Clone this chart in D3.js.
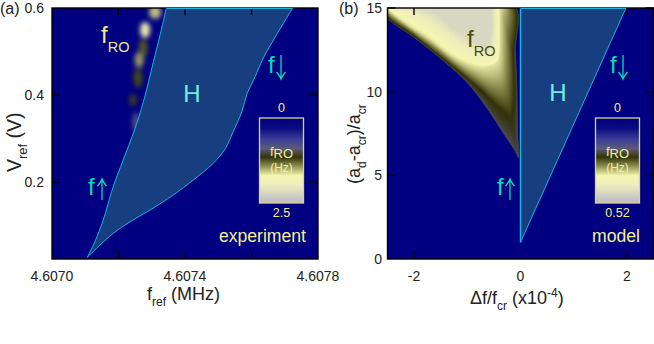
<!DOCTYPE html>
<html><head><meta charset="utf-8">
<script src="https://cdn.jsdelivr.net/npm/d3@7/dist/d3.min.js"></script>
<style>html,body{margin:0;padding:0;background:#fff}svg{display:block}text{font-family:"Liberation Sans",Arial,sans-serif}</style>
</head><body><script>
// Panel (a): hysteresis boundary
const aLeftX=[4.607106,4.607129,4.607154,4.607184,4.607214,4.607247,4.607275,4.607305,4.607325,4.607344];
const aLeftY=[0.0269,0.0627,0.1126,0.1892,0.2506,0.3172,0.3846,0.4765,0.5379,0.6];
const aRightX=[4.607724,4.607696,4.607666,4.607635,4.607611,4.607587,4.607571,4.607543,4.607522,4.607485,4.607425,4.607365,4.607295,4.607235,4.607184,4.607139,4.607106];
const aRightY=[0.6,0.5648,0.5264,0.4844,0.4421,0.4039,0.3616,0.3126,0.2775,0.2430,0.2046,0.1701,0.1356,0.1087,0.0821,0.0513,0.0269];
// Panel (a): measured fRO blobs
const blobX=[4.607253,4.607274,4.607259,4.607244,4.607262,4.607280,4.607310];
const blobY=[0.3379,0.508,0.4391,0.3885,0.4805,0.5494,0.5908];
const blobRx=[4,4.5,4.5,4,4.5,5,6];
const blobRy=[10,9,10,6,8,8,7];
const blobLevel=[0.3,0.5,0.48,0.44,0.58,0.67,0.62];
// Panel (b): model hysteresis triangle
const bHX=[0,0,1.98];
const bHY=[15,1,15];
// Panel (b): fRO contours, outer edge to core
const contourLevels=[0.4,0.47,0.66,0.88];
const contourX=[
 [-2.554,-1.934,-1.427,-0.995,-0.582,-0.338,-0.113,-0.038,-0.056,-0.066,-0.094,-0.131,-2.554],
 [-2.554,-1.934,-1.460,-0.975,-0.690,-0.430,-0.250,-0.190,-0.150,-0.131,-0.150,-0.169,-2.554],
 [-2.498,-2.178,-1.746,-1.296,-0.920,-0.676,-0.451,-0.394,-0.394,-0.394,-0.394,-0.394,-2.535],
 [-2.27,-1.80,-1.52,-1.30,-0.98,-0.75,-0.63,-0.58,-0.55,-0.55,-0.55,-0.55,-2.31]];
const contourY=[
 [14.61,13.09,11.79,10.52,8.79,7.59,6.51,6.04,7.71,10.10,12.49,15.24,15.24],
 [14.70,13.23,12.02,10.78,10.00,9.20,8.75,8.60,9.02,10.10,12.19,15.24,15.24],
 [15.00,14.16,13.27,12.19,11.59,11.47,11.71,12.61,13.69,14.58,15.00,15.24,15.30],
 [15.2,15.0,14.55,13.97,13.25,12.8,12.75,13.25,13.9,14.5,15.0,15.24,15.3]];
// Colour map
const rampStops=[0,0.12,0.25,0.36,0.46,0.56,0.68,0.78,0.82,0.88,0.95,1];
const rampColors=["#000080","#0a0a80","#3c3c98","#5c5c78","#33330a","#88884c","#f6f6b2","#eeeebc","#e6e6be","#d8d8c2","#c4c4c4","#c0c0cc"];
// Tick labels
const aXTicks=[4.6070,4.6074,4.6078], aXMinor=[4.6072,4.6074,4.6076], aYTicks=[0.2,0.4,0.6];
const bXTicks=[-2,0,2], bYTicks=[0,5,10,15];

const NAVY="#000080",HFILL="#173f80",EDGE="#16b4e4",CY="#72ece4",TEAL="#0cdcb0",YEL="#f4f090";
const svg=d3.select("body").append("svg").attr("width",654).attr("height",344);
const defs=svg.append("defs");
const ramp=d3.scaleLinear().domain(rampStops).range(rampColors).interpolate(d3.interpolateRgb);
const blur=defs.append("filter").attr("id","soft").attr("x","-80%").attr("y","-80%").attr("width","260%").attr("height","260%");
blur.append("feGaussianBlur").attr("stdDeviation",2.4);
const gr=defs.append("linearGradient").attr("id","bar").attr("x1",0).attr("x2",0).attr("y1",0).attr("y2",1);
rampStops.forEach((s,i)=>gr.append("stop").attr("offset",s).attr("stop-color",rampColors[i]));

const L={x0:52,x1:318,y0:8,y1:259}, R={x0:387.5,x1:653.5,y0:8,y1:259};
const ax=d3.scaleLinear().domain([4.6070,4.6078]).range([L.x0,L.x1]);
const ay=d3.scaleLinear().domain([0.6,0.4,0.2]).range([8,95,182]);
const bx=d3.scaleLinear().domain([-2,2]).range([414,627]);
const by=d3.scaleLinear().domain([15,0]).range([8,259]);

function panel(id,B){
  defs.append("clipPath").attr("id",id).append("rect").attr("x",B.x0).attr("y",B.y0).attr("width",B.x1-B.x0).attr("height",B.y1-B.y0);
  svg.append("rect").attr("x",B.x0).attr("y",B.y0).attr("width",B.x1-B.x0).attr("height",B.y1-B.y0).attr("fill",NAVY);
  return svg.append("g").attr("clip-path",`url(#${id})`);
}
function frame(B,xs,ys,xScale,yScale){
  const g=svg.append("g").attr("stroke","#000").attr("stroke-width",1.4);
  xs.forEach(v=>{const x=xScale(v);
    g.append("line").attr("x1",x).attr("x2",x).attr("y1",B.y1).attr("y2",B.y1-8);
    g.append("line").attr("x1",x).attr("x2",x).attr("y1",B.y0).attr("y2",B.y0+7);});
  ys.forEach(v=>{const y=yScale(v);
    g.append("line").attr("y1",y).attr("y2",y).attr("x1",B.x0).attr("x2",B.x0+8);
    g.append("line").attr("y1",y).attr("y2",y).attr("x1",B.x1).attr("x2",B.x1-8);});
  g.append("rect").attr("x",B.x0).attr("y",B.y0).attr("width",B.x1-B.x0).attr("height",B.y1-B.y0).attr("fill","none");
}
function txt(parent,x,y,size,fill,parts,anchor,rot){
  const t=parent.append("text").attr("x",x).attr("y",y).attr("font-size",size).attr("fill",fill).attr("text-anchor",anchor||"start");
  if(rot)t.attr("transform",`rotate(${rot} ${x} ${y})`);
  parts.forEach(p=>{
    if(typeof p==="string"){t.append("tspan").text(p);return;}
    const s=t.append("tspan").attr("dy",p.dy).text(p.t);
    if(p.fs)s.attr("font-size",p.fs);
  });
  return t;
}
const sub=(s,fs,d)=>({t:s,fs:fs,dy:d});
const back=(s,d)=>({t:s,dy:-d});
function colorbar(x,top,bottom,lab){
  const w=44;
  svg.append("rect").attr("x",x).attr("y",top).attr("width",w).attr("height",bottom-top).attr("fill","url(#bar)").attr("stroke","#d8d488").attr("stroke-width",1.3);
  txt(svg,x+22,top-6,12.5,YEL,["0"],"middle");
  txt(svg,x+22,bottom+14,12.5,YEL,[lab],"middle");
  txt(svg,x+22,top+38,13,YEL,["f",sub("RO",13,2)],"middle");
  txt(svg,x+22,top+54,12,YEL,["(Hz)"],"middle");
}
function arrow(x,y1,y2){
  const d=y2>y1?-1:1;
  const p=d3.path();
  p.moveTo(x,y1);p.lineTo(x,y2);
  p.moveTo(x-4.5,y2+d*7);p.quadraticCurveTo(x-1,y2+d*3,x,y2);p.quadraticCurveTo(x+1,y2+d*3,x+4.5,y2+d*7);
  svg.append("path").attr("d",p.toString()).attr("fill","none").attr("stroke",TEAL).attr("stroke-width",1.3);
}

// ---------- Panel a
const ga=panel("ca",L);
blobX.forEach((v,i)=>{
  ga.append("ellipse").attr("cx",ax(v)).attr("cy",ay(blobY[i])).attr("rx",blobRx[i]).attr("ry",blobRy[i])
    .attr("fill",ramp(blobLevel[i])).attr("filter","url(#soft)");
});
const curve=d3.line().curve(d3.curveCatmullRom.alpha(0.5));
const aL=aLeftX.map((v,i)=>[ax(v),ay(aLeftY[i])]);
const aR=aRightX.map((v,i)=>[ax(v),ay(aRightY[i])]);
ga.append("path").attr("d",curve(aL)+"L"+curve(aR).slice(1)+"Z").attr("fill",HFILL).attr("stroke","none");
ga.append("path").attr("d",curve(aL)).attr("fill","none").attr("stroke",EDGE).attr("stroke-width",1);
ga.append("path").attr("d",curve(aR)).attr("fill","none").attr("stroke",EDGE).attr("stroke-width",1);
frame(L,aXMinor,[0.2,0.4],ax,ay);
svg.append("line").attr("x1",aL[aL.length-1][0]).attr("x2",aR[0][0]).attr("y1",8.5).attr("y2",8.5).attr("stroke",EDGE).attr("stroke-width",1.2);

aXTicks.forEach(v=>txt(svg,ax(v),281,14,"#222",[d3.format(".4f")(v)],"middle"));
aYTicks.forEach(v=>txt(svg,44,ay(v)+5,14,"#222",[d3.format(".1f")(v)],"end"));
txt(svg,0,14,16,"#222",["(a)"]);
txt(svg,147,300,18,"#222",["f",sub("ref",12,6),back(" (MHz)",6)]);
txt(svg,21,172,19.5,"#222",["V",sub("ref",13,6),back(" (V)",6)],"start",-90);
txt(svg,101,43,24,"#f2ec80",["f",sub("RO",14.5,9)]);
txt(svg,192,102,24,CY,["H"],"middle");
txt(svg,268,73,24,TEAL,["f"]);
arrow(281,55,79);
txt(svg,88,195,24,TEAL,["f"]);
arrow(102,200,179);
txt(svg,306,242,17.6,YEL,["experiment"],"end");
colorbar(259.5,118,203,"2.5");

// ---------- Panel b
const gb=panel("cb",R);
const nPts=contourX[0].length;
function contourAt(l){
  let k=0; while(k<contourLevels.length-2&&l>contourLevels[k+1])k++;
  const u=(l-contourLevels[k])/(contourLevels[k+1]-contourLevels[k]);
  return d3.range(nPts).map(i=>[
    bx(contourX[k][i]+(contourX[k+1][i]-contourX[k][i])*u),
    by(contourY[k][i]+(contourY[k+1][i]-contourY[k][i])*u)]);
}
const closed=d3.line().curve(d3.curveLinearClosed);
const smooth=d3.line().curve(d3.curveCatmullRomClosed.alpha(0.5));
const levels=d3.range(0,91).map(i=>contourLevels[0]+(contourLevels[3]-contourLevels[0])*i/90);
levels.forEach(l=>{
  gb.append("path").attr("d",smooth(contourAt(l))).attr("fill",ramp(l)).attr("stroke",ramp(l)).attr("stroke-width",0.5).attr("stroke-linejoin","round");
});
const bH=bHX.map((v,i)=>[bx(v),by(bHY[i])]);
gb.append("path").attr("d",closed(bH)).attr("fill",HFILL).attr("stroke",EDGE).attr("stroke-width",1);
gb.append("line").attr("x1",bx(0)).attr("x2",bx(0)).attr("y1",8).attr("y2",by(1)).attr("stroke",EDGE).attr("stroke-width",1.5);
frame(R,[-2,2],[5,10,15],bx,by);
svg.append("line").attr("x1",bx(0)).attr("x2",bx(1.98)).attr("y1",8.5).attr("y2",8.5).attr("stroke",EDGE).attr("stroke-width",1.2);

bXTicks.forEach(v=>txt(svg,bx(v),281,14,"#222",[v<0?"-"+Math.abs(v):String(v)],"middle"));
bYTicks.forEach(v=>txt(svg,382,by(v)+5,14,"#222",[String(v)],"end"));
txt(svg,339,14,16,"#222",["(b)"]);
txt(svg,470,304,18,"#222",["\u0394f/f",sub("cr",12,6),back(" (x10",6),{t:"-4",fs:12,dy:-7},{t:")",dy:7}]);
txt(svg,360,184,18,"#222",["(a",sub("d",12,6),back("-a",6),sub("cr",12,6),back(")/a",6),sub("cr",12,6)],"start",-90);
txt(svg,467,47,24,"#4a4a0c",["f",sub("RO",14.5,9)]);
txt(svg,558,101,24,CY,["H"],"middle");
txt(svg,610,73,24,TEAL,["f"]);
arrow(623,55,79);
txt(svg,497,195,24,TEAL,["f"]);
arrow(510,200,179);
txt(svg,640,242,17.6,YEL,["model"],"end");
colorbar(595.5,118,203,"0.52");
</script></body></html>
